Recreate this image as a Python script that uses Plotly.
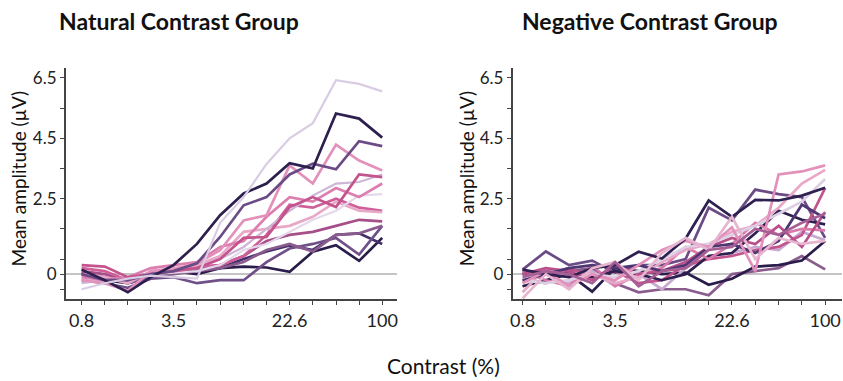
import plotly.graph_objects as go

# Contrast levels (%), 14 steps on a log scale
contrast = [0.8, 1.16, 1.68, 2.43, 3.5, 5.1, 7.4, 10.8, 15.6, 22.6, 32.8, 47.6, 69.0, 100]
x_tick_labels = {0.8: "0.8", 3.5: "3.5", 22.6: "22.6", 100: "100"}
y_tick_vals = [-0.5, 0, 0.5, 1.5, 2.5, 3.5, 4.5, 5.5, 6.5]
y_tick_text = ["", "0", "", "", "2.5", "", "4.5", "", "6.5"]

# Natural contrast group: one line per participant
natural_colors = ["#2b1d4b", "#45306b", "#6f5088", "#8a5c8e", "#a74f88", "#cf5f99",
                  "#e8a8c8", "#e3d9ea", "#cdb6d6", "#dc7fb0", "#c4548d", "#e391bb",
                  "#6b4b85", "#2d1f4e", "#d9cce3"]
natural_values = [
    [0.0, -0.2, -0.3, -0.1, 0.1, 0.0, 0.2, 0.25, 0.22, 0.08, 0.74, 0.96, 0.44, 1.2],
    [0.05, -0.15, -0.3, -0.1, 0.05, 0.15, 0.2, 0.5, 0.75, 0.95, 0.8, 1.3, 1.35, 1.0],
    [-0.2, -0.3, -0.45, -0.15, -0.1, -0.3, -0.2, -0.2, 0.4, 0.85, 1.0, 1.2, 0.65, 1.6],
    [0.0, -0.1, -0.3, -0.1, 0.0, 0.1, 0.2, 0.4, 0.8, 1.0, 0.75, 1.3, 1.35, 1.6],
    [0.1, 0.0, -0.2, 0.05, 0.1, 0.2, 0.3, 0.6, 1.1, 1.3, 1.4, 1.6, 1.8, 1.75],
    [0.2, 0.1, -0.2, 0.05, 0.15, 0.25, 0.3, 0.6, 1.3, 2.3, 2.2, 2.5, 2.2, 2.1],
    [0.0, -0.1, -0.3, 0.1, 0.2, 0.3, 0.6, 1.4, 1.5, 1.6, 1.9, 2.4, 2.1, 2.05],
    [-0.2, -0.25, -0.15, 0.0, 0.05, 0.1, 0.3, 0.8, 1.0, 1.4, 1.8, 2.1, 2.6, 2.65],
    [-0.3, -0.2, -0.1, 0.0, 0.1, 0.2, 0.5, 0.9, 1.5, 2.1, 2.6, 3.0, 3.05, 3.3],
    [-0.1, -0.2, -0.1, 0.2, 0.3, 0.4, 0.9, 1.1, 1.9, 2.55, 2.4, 2.85, 2.55, 3.0],
    [0.3, 0.25, -0.1, 0.0, 0.1, 0.2, 0.5, 1.2, 1.23, 2.22, 2.55, 2.22, 3.3, 3.21],
    [-0.2, -0.3, -0.55, 0.1, 0.15, 0.36, 0.79, 1.78, 1.95, 3.6, 3.0, 4.29, 3.76, 3.43],
    [0.0, -0.2, -0.2, 0.0, 0.1, 0.36, 1.23, 2.28, 2.55, 3.3, 3.66, 3.47, 4.4, 4.24],
    [0.15, -0.2, -0.6, -0.1, 0.3, 1.0, 1.95, 2.67, 3.0, 3.67, 3.5, 5.32, 5.15, 4.52],
    [-0.5, -0.3, -0.15, -0.05, -0.1, -0.15, 1.7, 2.55, 3.65, 4.5, 5.0, 6.42, 6.3, 6.05],
]

# Negative contrast group
negative_colors = ["#8a5c8e", "#2b1d4b", "#c8a9d2", "#6b4b85", "#c4548d", "#2d1f4e",
                   "#d97aab", "#e8a8c8", "#b8508a", "#ddd0e5", "#4d3673", "#e391bb",
                   "#2e2050", "#e6b5cf", "#a65f95"]
negative_values = [
    [-0.2, -0.3, 0.1, 0.2, -0.3, -0.6, -0.5, -0.5, -0.7, 0.0, 0.1, 0.2, 0.6, 0.16],
    [0.0, 0.1, 0.0, -0.58, 0.2, 0.1, 0.0, 0.05, -0.35, -0.15, 0.25, 0.3, 0.45, 1.1],
    [-0.4, -0.2, -0.3, 0.1, -0.4, 0.0, -0.5, 0.2, 0.6, 0.7, 0.9, 0.8, 1.4, 1.12],
    [0.15, 0.75, 0.3, 0.45, 0.05, 0.3, 0.3, 0.5, 2.2, 1.78, 2.8, 2.65, 2.55, 1.2],
    [0.1, 0.0, 0.2, -0.1, 0.1, -0.3, -0.2, 0.3, 0.5, 0.6, 0.8, 0.9, 1.3, 2.85],
    [-0.4, -0.2, 0.0, -0.1, 0.1, 0.0, -0.2, 0.0, 0.6, 0.7, 1.35, 2.1, 1.8, 1.65],
    [0.1, -0.2, -0.4, 0.3, -0.4, 0.0, 0.2, 0.9, 0.5, 1.0, 1.7, 1.3, 1.5, 1.45],
    [-0.6, 0.2, -0.1, 0.0, -0.3, -0.1, 0.4, 0.8, 1.0, 1.4, 1.6, 2.2, 3.0, 3.45],
    [0.0, 0.2, 0.1, -0.2, 0.3, 0.0, 0.1, 0.4, 0.9, 1.2, 1.0, 1.6, 0.9, 2.06],
    [-0.2, -0.3, -0.2, 0.0, -0.1, 0.1, 0.5, 0.9, 1.0, 1.3, 1.6, 2.0, 2.4, 3.15],
    [-0.2, 0.0, 0.2, 0.3, 0.2, 0.3, 0.1, 0.3, 0.9, 1.0, 0.7, 1.1, 2.3, 1.85],
    [-0.3, 0.1, -0.4, 0.0, -0.2, 0.3, 0.8, 1.1, 0.9, 1.55, 0.1, 3.3, 3.4, 3.6],
    [0.15, 0.0, -0.1, 0.2, 0.3, 0.74, 0.52, 1.18, 2.44, 1.9, 2.46, 2.44, 2.6, 2.86],
    [-0.8, 0.0, -0.5, 0.2, 0.4, -0.2, 0.7, 1.2, 0.8, 1.9, 0.5, 1.2, 1.0, 1.1],
    [-0.1, 0.1, 0.0, -0.3, 0.4, -0.4, 0.1, 0.2, 0.8, 0.9, 1.5, 1.3, 1.7, 2.0],
]

FONT = "Lato, 'Open Sans', sans-serif"
fig = go.Figure()

for vals, col in zip(natural_values, natural_colors):
    light = col in ("#d9cce3", "#e3d9ea", "#cdb6d6")
    fig.add_trace(go.Scatter(x=contrast, y=vals, mode="lines", xaxis="x", yaxis="y",
                             line=dict(color=col, width=2.2 if light else 2.7),
                             showlegend=False, hoverinfo="skip"))
for vals, col in zip(negative_values, negative_colors):
    fig.add_trace(go.Scatter(x=contrast, y=vals, mode="lines", xaxis="x2", yaxis="y2",
                             line=dict(color=col, width=2.7),
                             showlegend=False, hoverinfo="skip"))

tickvals_x = contrast
ticktext_x = [x_tick_labels.get(c, "") for c in contrast]

def xax(domain, rng):
    return dict(type="log", domain=domain, range=rng, tickvals=tickvals_x, ticktext=ticktext_x,
                ticks="outside", ticklen=4, tickcolor="#444", tickwidth=1,
                showline=True, linecolor="#444", linewidth=1.5, showgrid=False, zeroline=False,
                tickfont=dict(family=FONT, size=18, color="#222"))

def yax(anchor):
    return dict(domain=[0.2152, 0.8241], range=[-0.83, 6.83], tickvals=y_tick_vals, ticktext=y_tick_text,
                ticks="outside", ticklen=4, tickcolor="#444", tickwidth=1, anchor=anchor,
                showline=True, linecolor="#444", linewidth=1.5, showgrid=False,
                zeroline=True, zerolinecolor="#c4c4c4", zerolinewidth=1.5,
                tickfont=dict(family=FONT, size=17, color="#222"))

fig.update_layout(
    width=843, height=381,
    margin=dict(l=0, r=0, t=0, b=0),
    paper_bgcolor="white", plot_bgcolor="white",
    xaxis=dict(**xax([63 / 843, 396 / 843], [-0.208, 2.104]), anchor="y"),
    yaxis=yax("x"),
    xaxis2=dict(**xax([512 / 843, 1.0], [-0.166, 2.117]), anchor="y2"),
    yaxis2=yax("x2"),
    annotations=[
        dict(text="<b>Natural Contrast Group</b>", x=177 / 843, y=1 - 20 / 381, xref="paper", yref="paper",
             xanchor="center", yanchor="middle", showarrow=False, font=dict(family=FONT, size=23, color="#111")),
        dict(text="<b>Negative Contrast Group</b>", x=650 / 843, y=1 - 20 / 381, xref="paper", yref="paper",
             xanchor="center", yanchor="middle", showarrow=False, font=dict(family=FONT, size=23, color="#111")),
        dict(text="Mean amplitude (µV)", x=16 / 843, y=1 - 178 / 381, xref="paper", yref="paper",
             textangle=-90, xanchor="center", yanchor="middle", showarrow=False,
             font=dict(family=FONT, size=19, color="#111")),
        dict(text="Mean amplitude (µV)", x=466 / 843, y=1 - 178 / 381, xref="paper", yref="paper",
             textangle=-90, xanchor="center", yanchor="middle", showarrow=False,
             font=dict(family=FONT, size=19, color="#111")),
        dict(text="Contrast (%)", x=443 / 843, y=1 - 365 / 381, xref="paper", yref="paper",
             xanchor="center", yanchor="middle", showarrow=False, font=dict(family=FONT, size=21, color="#111")),
    ],
)

fig.write_html("out.html")
